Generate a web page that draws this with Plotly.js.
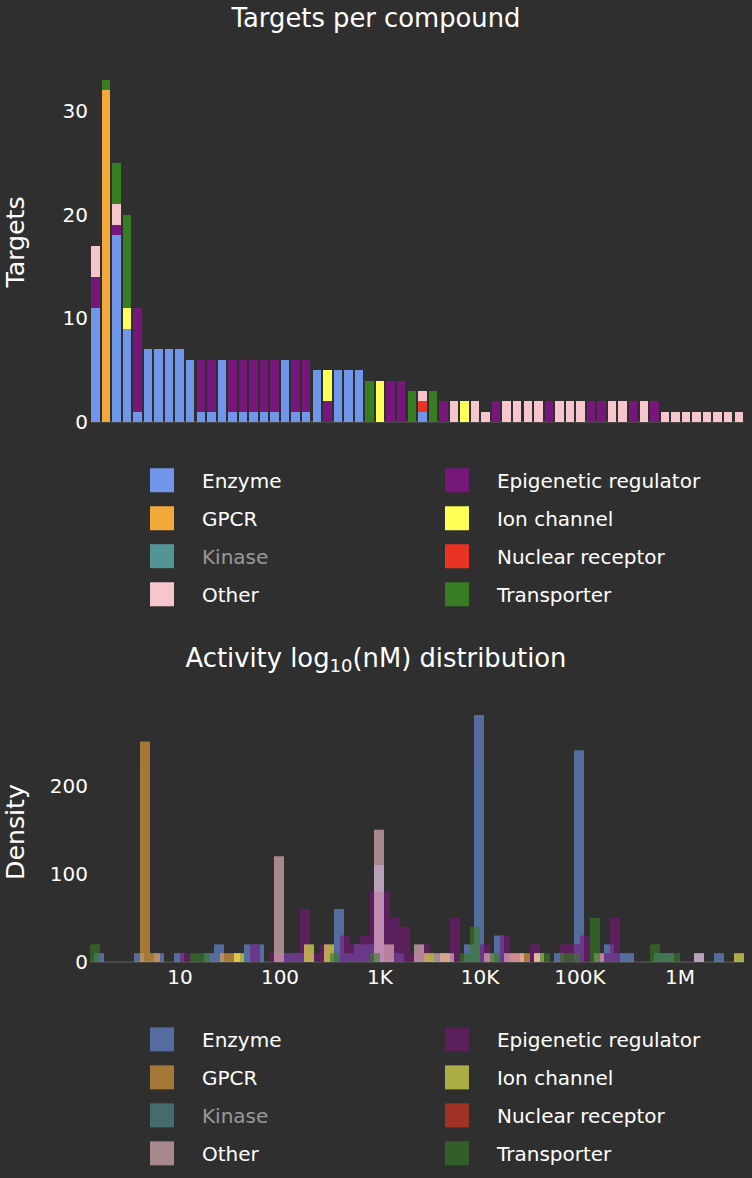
<!DOCTYPE html>
<html><head>
<meta charset="utf-8"/>
<title>Targets and activity</title>
<script src="https://cdn.plot.ly/plotly-3.0.1.min.js"></script>
<style>
    * { margin: 0px; padding: 0px }
    body { background: #2f2f2f; overflow: hidden }
    /* figure is laid out at half size and scaled up, like a 2x screenshot */
    .wrap { position: absolute; left: 0px; top: 0px; width: 376px; transform: scale(2); transform-origin: 0 0 }
    #top { width: 376px; height: 320px }
    #bottom { width: 376px; height: 280px }
</style>
</head><body>
<div class="wrap">
    <div id="top"></div>
    <div id="bottom"></div>
</div>
<script>
// target classes, in legend order
var classes = ['Enzyme', 'Epigenetic regulator', 'GPCR', 'Ion channel', 'Kinase', 'Nuclear receptor', 'Other', 'Transporter'];
var colors = ['#6f96e8', '#77167b', '#f2a93b', '#ffff55', '#75fbfd', '#ea3323', '#f7c5cc', '#377e22'];

// --- targets per compound (62 compounds, sorted by total) ---
var compounds = [];
for (var i = 1; i <= 62; i++) compounds.push('CPD-' + (i < 10 ? '0' + i : i));

var tEnzyme  = [11,0,18,9,1,7,7,7,7,6, 1,1,6,1,1,1,1,1,6,1, 1,5,0,5,5,5,0,0,0,0, 0,1,0,0,0,0,0,0,0,0, 0,0,0,0,0,0,0,0,0,0, 0,0,0,0,0,0,0,0,0,0, 0,0];
var tEpi     = [3,0,1,0,10,0,0,0,0,0, 5,5,0,5,5,5,5,5,0,5, 5,0,2,0,0,0,0,0,4,4, 0,0,0,2,0,0,0,0,2,0, 0,0,0,2,0,0,0,2,2,0, 0,2,0,2,0,0,0,0,0,0, 0,0];
var tGpcr    = [0,32,0,0,0,0,0,0,0,0, 0,0,0,0,0,0,0,0,0,0, 0,0,0,0,0,0,0,0,0,0, 0,0,0,0,0,0,0,0,0,0, 0,0,0,0,0,0,0,0,0,0, 0,0,0,0,0,0,0,0,0,0, 0,0];
var tIon     = [0,0,0,2,0,0,0,0,0,0, 0,0,0,0,0,0,0,0,0,0, 0,0,3,0,0,0,0,4,0,0, 0,0,0,0,0,2,0,0,0,0, 0,0,0,0,0,0,0,0,0,0, 0,0,0,0,0,0,0,0,0,0, 0,0];
var tKinase  = [0,0,0,0,0,0,0,0,0,0, 0,0,0,0,0,0,0,0,0,0, 0,0,0,0,0,0,0,0,0,0, 0,0,0,0,0,0,0,0,0,0, 0,0,0,0,0,0,0,0,0,0, 0,0,0,0,0,0,0,0,0,0, 0,0];
var tNuclear = [0,0,0,0,0,0,0,0,0,0, 0,0,0,0,0,0,0,0,0,0, 0,0,0,0,0,0,0,0,0,0, 0,1,0,0,0,0,0,0,0,0, 0,0,0,0,0,0,0,0,0,0, 0,0,0,0,0,0,0,0,0,0, 0,0];
var tOther   = [3,0,2,0,0,0,0,0,0,0, 0,0,0,0,0,0,0,0,0,0, 0,0,0,0,0,0,0,0,0,0, 0,1,0,0,2,0,2,1,0,2, 2,2,2,0,2,2,2,0,0,2, 2,0,2,0,1,1,1,1,1,1, 1,1];
var tTrans   = [0,1,4,9,0,0,0,0,0,0, 0,0,0,0,0,0,0,0,0,0, 0,0,0,0,0,0,4,0,0,0, 3,0,3,0,0,0,0,0,0,0, 0,0,0,0,0,0,0,0,0,0, 0,0,0,0,0,0,0,0,0,0, 0,0];
var targets = [tEnzyme, tEpi, tGpcr, tIon, tKinase, tNuclear, tOther, tTrans];

// --- activity histogram: bin left edges in log10(nM), bin width 0.1, density ---
var binWidth = 0.1;
var hEnzymeX  = [0.14,0.54,0.74,0.94,1.24,1.34,1.64,1.74,2.04,2.14,2.54,2.64,2.74,2.84,2.94,3.14,3.84,3.94,4.14,4.74,4.94,5.24,5.34,5.44,5.74,5.84,6.14,6.34];
var hEnzymeY  = [10,10,10,10,10,20,20,20,10,10,60,10,20,20,110,10,20,280,30,10,240,20,10,10,10,10,10,10];
var hEpiX     = [1.0,1.7,1.9,2.0,2.1,2.2,2.3,2.4,2.6,2.7,2.8,2.9,3.0,3.1,3.2,3.3,3.4,3.7,4.0,4.2,4.5,4.8,4.9,5.0,5.2,5.3];
var hEpiY     = [10,20,10,10,10,60,10,20,30,20,30,80,80,50,40,10,20,50,20,30,20,20,20,30,10,50];
var hGpcrX    = [0.6,0.7,1.4,1.5,3.6,4.4];
var hGpcrY    = [250,10,10,10,10,10];
var hIonX     = [1.54,2.24,2.44,3.44,4.54,6.54];
var hIonY     = [10,20,20,10,10,10];
var hKinaseX  = [1.0];   // hidden class (legend only)
var hKinaseY  = [0];
var hNuclearX = [4.3];
var hNuclearY = [10];
var hOtherX   = [1.94,2.94,3.04,3.34,3.54,3.64,4.04,4.24,4.34,4.54,5.14,6.14];
var hOtherY   = [120,150,20,20,10,10,10,10,10,10,10,10];
var hTransX   = [0.1,1.1,1.2,2.5,2.9,3.8,3.9,4.1,4.6,4.8,4.9,5.1,5.7,5.8,5.9];
var hTransY   = [20,10,10,10,10,10,40,10,10,10,10,50,20,10,10];
var histX = [hEnzymeX, hEpiX, hGpcrX, hIonX, hKinaseX, hNuclearX, hOtherX, hTransX];
var histY = [hEnzymeY, hEpiY, hGpcrY, hIonY, hKinaseY, hNuclearY, hOtherY, hTransY];

var tickVals = [1, 2, 3, 4, 5, 6];
var tickText = ['10', '100', '1K', '10K', '100K', '1M'];

var font = {family: 'DejaVu Sans, Verdana, sans-serif', size: 10, color: '#ffffff'};
var bg = '#2f2f2f';

var topData = [];
for (var k = 0; k < classes.length; k++) {
    topData.push({
        type: 'bar',
        name: classes[k],
        x: compounds,
        y: targets[k],
        marker: {color: colors[k]},
        visible: classes[k] == 'Kinase' ? 'legendonly' : true
    });
}

var botData = [];
for (var k = 0; k < classes.length; k++) {
    var mids = histX[k].map(function(v){ return v + binWidth / 2; });
    botData.push({
        type: 'bar',
        name: classes[k],
        x: mids,
        y: histY[k],
        width: binWidth,
        opacity: 0.6,
        marker: {color: colors[k]},
        visible: classes[k] == 'Kinase' ? 'legendonly' : true
    });
}

var topLayout = {
    width: 376, height: 320,
    paper_bgcolor: bg, plot_bgcolor: bg,
    font: font,
    margin: {l: 45, r: 4, t: 31, b: 109},
    title: {text: 'Targets per compound', font: {size: 12.9}, x: 0.5, xanchor: 'center', y: 1 - 9 / 320, yanchor: 'middle'},
    barmode: 'stack',
    showlegend: true,
    legend: {orientation: 'h', traceorder: 'normal', x: 0.5, xanchor: 'center', y: -0.081, yanchor: 'top', font: {size: 10}},
    xaxis: {showticklabels: false, showgrid: false, zeroline: false, showline: false, ticks: ''},
    yaxis: {title: {text: 'Targets', font: {size: 12.6}}, showgrid: false, zeroline: true, zerolinecolor: '#474747', zerolinewidth: 1, ticks: ''}
};

var botLayout = {
    width: 376, height: 280,
    paper_bgcolor: bg, plot_bgcolor: bg,
    font: font,
    margin: {l: 45, r: 4, t: 31, b: 119},
    title: {text: 'Activity log<sub>10</sub>(nM) distribution', font: {size: 12.9}, x: 0.5, xanchor: 'center', y: 1 - 9 / 280, yanchor: 'middle'},
    barmode: 'overlay',
    showlegend: true,
    legend: {orientation: 'h', traceorder: 'normal', x: 0.5, xanchor: 'center', y: -0.186, yanchor: 'top', font: {size: 10}},
    xaxis: {range: [0.1, 6.64], tickvals: tickVals, ticktext: tickText, showgrid: false, zeroline: false, showline: false, ticks: ''},
    yaxis: {title: {text: 'Density', font: {size: 12.6}}, showgrid: false, zeroline: true, zerolinecolor: '#474747', zerolinewidth: 1, ticks: ''}
};

var cfg = {displayModeBar: false, staticPlot: true};
Plotly.newPlot('top', topData, topLayout, cfg);
Plotly.newPlot('bottom', botData, botLayout, cfg);
</script>
</body></html>
